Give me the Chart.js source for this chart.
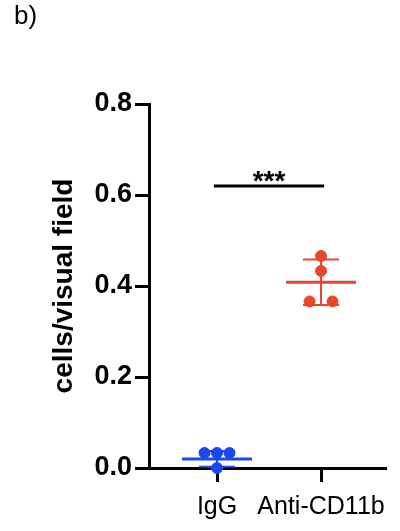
<!DOCTYPE html>
<html>
<head>
<meta charset="utf-8">
<script src="https://cdn.jsdelivr.net/npm/chart.js@4/dist/chart.umd.min.js"></script>
<style>
  html, body { margin: 0; padding: 0; background: #fff; }
  #wrap { position: relative; width: 400px; height: 531px; }
  #panel { position: absolute; left: 14px; top: 0px; font: 26px "Liberation Sans", Arial, sans-serif; color: #000; }
</style>
</head>
<body>
<div id="wrap">
  <div id="panel">b)</div>
  <canvas id="c" width="400" height="531"></canvas>
</div>
<script>
// groups on the x axis
const groups = ['IgG', 'Anti-CD11b'];
const groupColors = ['#1b47ee', '#e4472c'];

// individual points (value + horizontal jitter position)
const iggValues = [0.033, 0.033, 0.033, 0.0];
const iggX = [0.88, 1.0, 1.12, 1.0];
const antiValues = [0.466, 0.433, 0.366, 0.366];
const antiX = [2.0, 2.0, 1.89, 2.11];

// mean and SD
const means = [0.02, 0.408];
const sds = [0.0175, 0.05];

// significance bar
const sigFrom = 0.97, sigTo = 2.03, sigY = 0.62, sigLabel = '***';

const yTicks = [0, 0.2, 0.4, 0.6, 0.8];

const font = '"Liberation Sans", Arial, sans-serif';

const errorBars = {
  id: 'errorBars',
  beforeDatasetsDraw(chart) {
    const { ctx, scales: { x, y } } = chart;
    ctx.save();
    means.forEach((m, i) => {
      const cx = x.getPixelForValue(i + 1);
      ctx.strokeStyle = groupColors[i];
      // mean line
      ctx.lineWidth = 3;
      ctx.beginPath();
      ctx.moveTo(cx - 35, y.getPixelForValue(m));
      ctx.lineTo(cx + 35, y.getPixelForValue(m));
      ctx.stroke();
      // SD whisker + caps
      const top = y.getPixelForValue(m + sds[i]);
      const bot = y.getPixelForValue(Math.max(0, m - sds[i]));
      ctx.lineWidth = 2;
      ctx.beginPath();
      ctx.moveTo(cx, top); ctx.lineTo(cx, bot);
      ctx.moveTo(cx - 18, top); ctx.lineTo(cx + 18, top);
      ctx.moveTo(cx - 18, bot); ctx.lineTo(cx + 18, bot);
      ctx.stroke();
    });
    // significance
    const yy = y.getPixelForValue(sigY);
    ctx.strokeStyle = '#000';
    ctx.lineWidth = 3;
    ctx.beginPath();
    ctx.moveTo(x.getPixelForValue(sigFrom), yy);
    ctx.lineTo(x.getPixelForValue(sigTo), yy);
    ctx.stroke();
    ctx.fillStyle = '#000';
    ctx.font = 'bold 28px ' + font;
    ctx.textAlign = 'center';
    ctx.textBaseline = 'alphabetic';
    ctx.fillText(sigLabel, x.getPixelForValue((sigFrom + sigTo) / 2), yy + 4);
    ctx.restore();
  }
};

new Chart(document.getElementById('c'), {
  type: 'scatter',
  data: {
    datasets: [
      {
        data: iggValues.map((v, i) => ({ x: iggX[i], y: v })),
        backgroundColor: groupColors[0],
        borderColor: groupColors[0],
        pointRadius: 5.5,
        clip: false
      },
      {
        data: antiValues.map((v, i) => ({ x: antiX[i], y: v })),
        backgroundColor: groupColors[1],
        borderColor: groupColors[1],
        pointRadius: 5.5,
        clip: false
      }
    ]
  },
  options: {
    responsive: false,
    animation: false,
    layout: { padding: { top: 104, right: 15, left: 0, bottom: 0 } },
    plugins: { legend: { display: false }, tooltip: { enabled: false } },
    scales: {
      x: {
        type: 'linear',
        min: 0.346,
        max: 2.615,
        afterBuildTicks: s => { s.ticks = groups.map((g, i) => ({ value: i + 1 })); },
        afterFit: s => { s.height = 63; },
        ticks: {
          callback: v => groups[v - 1],
          color: '#000',
          font: { family: font, size: 25 },
          padding: 10,
          maxRotation: 0,
          autoSkip: false
        },
        grid: { drawOnChartArea: false, drawTicks: true, tickLength: 14, color: '#000', lineWidth: 3 },
        border: { display: true, color: '#000', width: 3 }
      },
      y: {
        min: 0,
        max: 0.8,
        afterBuildTicks: s => { s.ticks = yTicks.map(v => ({ value: v })); },
        afterFit: s => { s.width = 149; },
        ticks: {
          callback: v => v.toFixed(1),
          color: '#000',
          font: { family: font, size: 27, weight: 'bold' },
          padding: 3
        },
        grid: { drawOnChartArea: false, drawTicks: true, tickLength: 14, color: '#000', lineWidth: 3 },
        border: { display: true, color: '#000', width: 3 },
        title: {
          display: true,
          text: 'cells/visual field',
          color: '#000',
          font: { family: font, size: 28, weight: 'bold' },
          padding: { top: 47, bottom: 0 }
        }
      }
    }
  },
  plugins: [errorBars]
});
</script>
</body>
</html>
